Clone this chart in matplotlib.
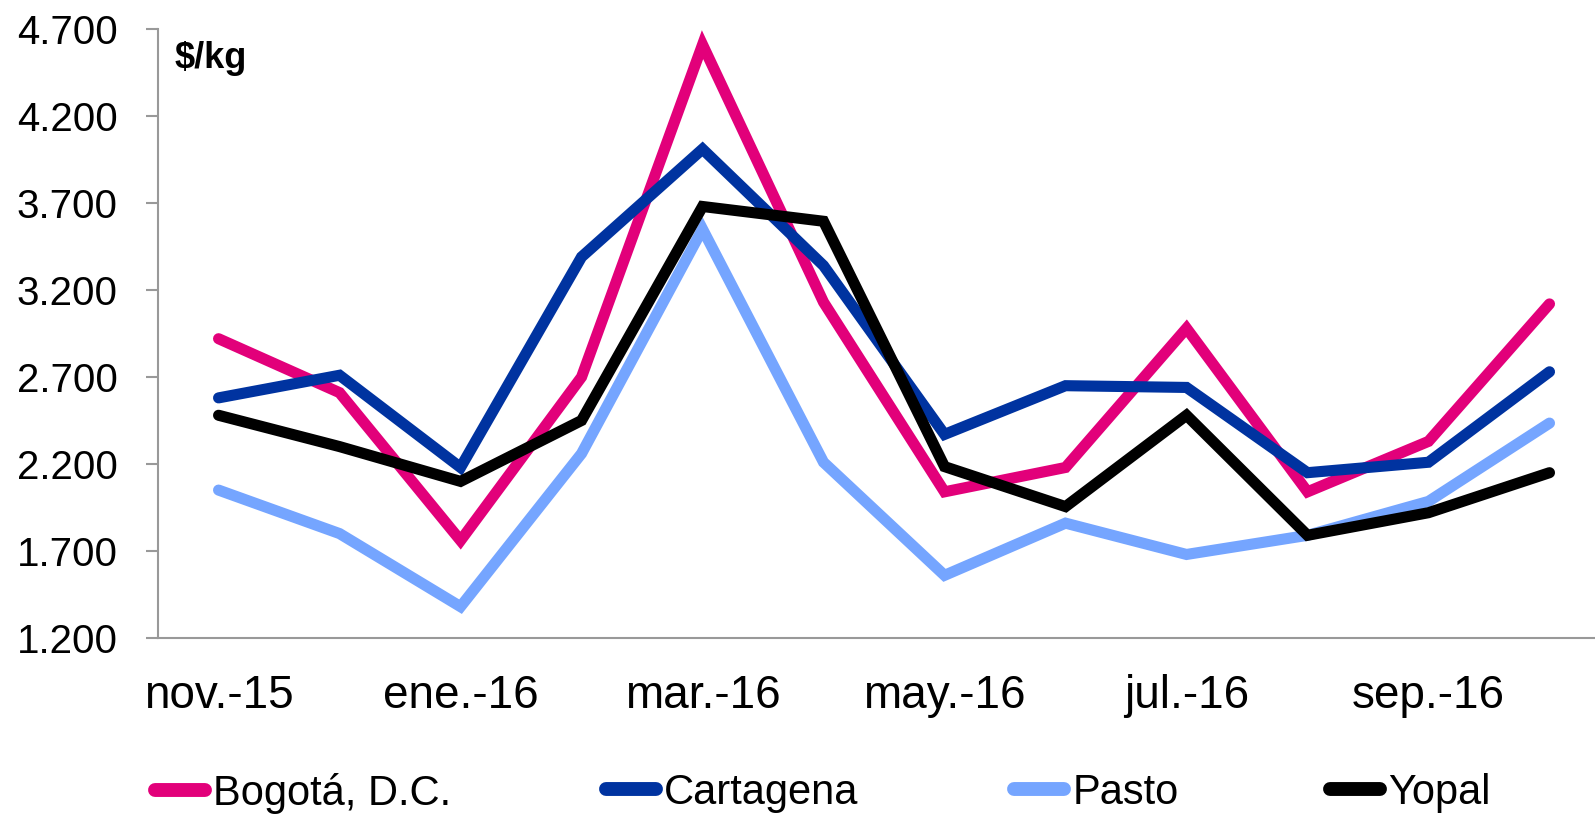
import matplotlib
matplotlib.use("Agg")
import matplotlib.pyplot as plt
from matplotlib.lines import Line2D
from matplotlib.ticker import FuncFormatter

months = ["nov.-15", "dic.-15", "ene.-16", "feb.-16", "mar.-16", "abr.-16",
          "may.-16", "jun.-16", "jul.-16", "ago.-16", "sep.-16", "oct.-16"]
bogota = [2920, 2610, 1760, 2700, 4610, 3130, 2040, 2180, 2980, 2040, 2330, 3120]
cartagena = [2580, 2710, 2180, 3390, 4010, 3340, 2370, 2650, 2640, 2150, 2210, 2730]
pasto = [2050, 1800, 1380, 2260, 3550, 2210, 1560, 1860, 1680, 1790, 1985, 2435]
yopal = [2480, 2300, 2100, 2450, 3680, 3595, 2185, 1955, 2480, 1790, 1920, 2150]
series_names = ["Bogotá, D.C.", "Cartagena", "Pasto", "Yopal"]
colors = ["#E2007A", "#0033A0", "#75A5FF", "#000000"]
yticks = [1200, 1700, 2200, 2700, 3200, 3700, 4200, 4700]

plt.rcParams['font.family'] = ['Liberation Sans', 'DejaVu Sans']

fig = plt.figure(figsize=(15.95, 8.15), dpi=100)
ax = fig.add_axes([0.0991, 0.2172, 0.9103, 0.7472])

x = list(range(len(months)))
handles = []
for vals, name, c in zip([bogota, cartagena, pasto, yopal], series_names, colors):
    h, = ax.plot(x, vals, color=c, lw=8, label=name, solid_joinstyle='miter',
                 solid_capstyle='round')
    handles.append(h)

ax.set_xlim(-0.5, 11.5)
ax.set_ylim(1200, 4700)
ax.set_yticks(yticks)
ax.yaxis.set_major_formatter(FuncFormatter(lambda v, p: f"{int(v):,}".replace(",", ".")))
ax.set_xticks(x[::2])
ax.set_xticklabels(months[::2])

for s in ["top", "right"]:
    ax.spines[s].set_visible(False)
for s in ["left", "bottom"]:
    ax.spines[s].set_color("#999999")
    ax.spines[s].set_linewidth(1.5)
    ax.spines[s].set_zorder(0)

ax.tick_params(axis='y', direction='out', length=9, width=1.5, color="#999999",
               labelsize=29, pad=20)
ax.tick_params(axis='x', length=0, labelsize=33, pad=26)

fig.text(175 / 1595, 1 - 68 / 815, "$/kg", fontsize=26, fontweight='bold',
         ha='left', va='baseline')

legend_x = [148, 599, 1007, 1323]
for h, lx in zip(handles, legend_x):
    lh = Line2D([], [], color=h.get_color(), lw=10, solid_capstyle='round')
    fig.legend([lh], [h.get_label()], loc='center left',
               bbox_to_anchor=((lx + 7) / 1595, 1 - 793 / 815),
               frameon=False, fontsize=30, handlelength=1.2,
               handletextpad=0.2, borderpad=0, borderaxespad=0)

fig.savefig("out.png", dpi=100)
